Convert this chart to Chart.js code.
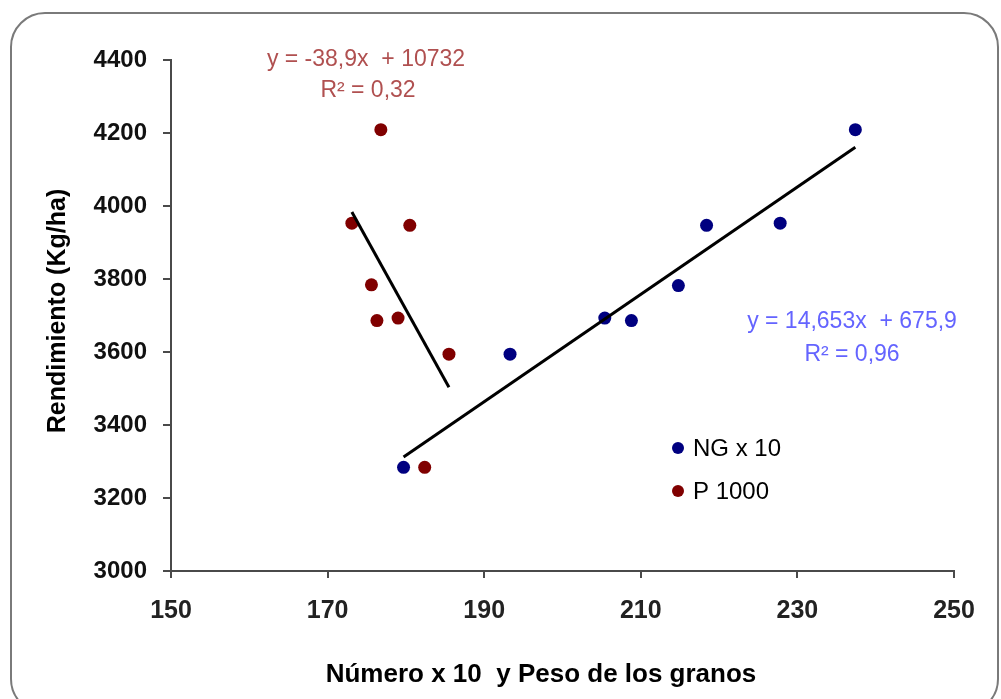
<!DOCTYPE html>
<html><head><meta charset="utf-8">
<script src="https://cdn.jsdelivr.net/npm/chart.js@4.4.0/dist/chart.umd.min.js"></script>
<style>html,body{margin:0;padding:0;background:#fff;} #wrap{width:1001px;height:699px;position:relative;}</style>
</head><body><div id="wrap"><canvas id="c"></canvas></div>
<script>
// ---- data ----
const seriesNames = ['NG x 10', 'P 1000'];
const ngX = [179.7, 193.3, 205.4, 208.8, 214.8, 218.4, 227.8, 237.4];
const ngY = [3284, 3594, 3693, 3686, 3782, 3947, 3953, 4209];
const pX  = [176.8, 173.1, 180.5, 175.6, 176.3, 179.0, 185.5, 182.4];
const pY  = [4209, 3953, 3947, 3784, 3686, 3693, 3594, 3284];
const xTicks = [150, 170, 190, 210, 230, 250];
const yTicks = [3000, 3200, 3400, 3600, 3800, 4000, 4200, 4400];
const eqNG = ['y = 14,653x  + 675,9', 'R\u00B2 = 0,96'];
const eqP  = ['y = -38,9x  + 10732', 'R\u00B2 = 0,32'];
const xTitle = 'N\u00FAmero x 10  y Peso de los granos';
const yTitle = 'Rendimiento (Kg/ha)';

const NAVY = '#000080', MAROON = '#800000';
const AXIS = '#4a4a4a';

function zip(xs, ys){ return xs.map((x,i)=>({x:x, y:ys[i]})); }
function trend(xs, ys){
  const n = xs.length;
  const mx = xs.reduce((a,b)=>a+b,0)/n, my = ys.reduce((a,b)=>a+b,0)/n;
  let sxy=0, sxx=0;
  for(let i=0;i<n;i++){ sxy += (xs[i]-mx)*(ys[i]-my); sxx += (xs[i]-mx)*(xs[i]-mx); }
  const b = sxy/sxx, a = my - b*mx;
  const x0 = Math.min(...xs), x1 = Math.max(...xs);
  return [{x:x0, y:a+b*x0}, {x:x1, y:a+b*x1}];
}

const decor = {
  id: 'decor',
  beforeDraw(chart){
    const ctx = chart.ctx;
    ctx.save();
    ctx.fillStyle = '#fff';
    ctx.fillRect(0,0,chart.width,chart.height);
    ctx.strokeStyle = '#7a7a7a';
    ctx.lineWidth = 2;
    ctx.beginPath();
    ctx.roundRect(11, 13, 987, 700, 34);
    ctx.stroke();
    ctx.restore();
  },
  afterDraw(chart){
    const ctx = chart.ctx;
    ctx.save();
    ctx.textAlign = 'center';
    ctx.textBaseline = 'middle';
    ctx.font = '23px "Liberation Sans", Arial, sans-serif';
    ctx.fillStyle = '#b05050';
    ctx.fillText(eqP[0], 366, 60);
    ctx.fillText(eqP[1], 368, 91);
    ctx.fillStyle = '#6464ff';
    ctx.fillText(eqNG[0], 852, 322);
    ctx.fillText(eqNG[1], 852, 355);

    // legend
    const leg = [[seriesNames[0], NAVY, 448], [seriesNames[1], MAROON, 491]];
    ctx.font = '24px "Liberation Sans", Arial, sans-serif';
    ctx.textAlign = 'left';
    leg.forEach(([t,c,y])=>{
      ctx.fillStyle = c;
      ctx.beginPath(); ctx.arc(678, y, 6, 0, Math.PI*2); ctx.fill();
      ctx.fillStyle = '#000';
      ctx.fillText(t, 693, y+1);
    });

    // axis titles
    ctx.fillStyle = '#000';
    ctx.font = 'bold 26px "Liberation Sans", Arial, sans-serif';
    ctx.textAlign = 'center';
    ctx.fillText(xTitle, 541, 675);
    ctx.save();
    ctx.translate(58, 311);
    ctx.rotate(-Math.PI/2);
    ctx.font = 'bold 25px "Liberation Sans", Arial, sans-serif';
    ctx.fillText(yTitle, 0, 0);
    ctx.restore();
    ctx.restore();
  }
};

new Chart(document.getElementById('c'), {
  type: 'scatter',
  data: {
    datasets: [
      { label: 'trendNG', type: 'line', data: trend(ngX, ngY), borderColor: '#000', borderWidth: 3,
        pointRadius: 0, fill: false, order: 0 },
      { label: 'trendP', type: 'line', data: trend(pX, pY), borderColor: '#000', borderWidth: 3,
        pointRadius: 0, fill: false, order: 0 },
      { label: seriesNames[0], data: zip(ngX, ngY), backgroundColor: NAVY, borderWidth: 0,
        pointRadius: 6.5, order: 1 },
      { label: seriesNames[1], data: zip(pX, pY), backgroundColor: MAROON, borderWidth: 0,
        pointRadius: 6.5, order: 1 }
    ]
  },
  options: {
    responsive: true, maintainAspectRatio: false, animation: false,
    layout: { padding: { top: 60, right: 47, left: 0, bottom: 0 } },
    plugins: { legend: { display: false }, tooltip: { enabled: false } },
    scales: {
      x: {
        type: 'linear', min: 150, max: 250,
        afterBuildTicks: s => { s.ticks = xTicks.map(v => ({value: v})); },
        afterFit: s => { s.height = 128; },
        border: { color: AXIS, width: 2 },
        grid: { display: true, drawOnChartArea: false, drawTicks: true, tickLength: 7, color: AXIS, lineWidth: 2 },
        ticks: { padding: 18, color: '#222', callback: v => String(v),
          font: { family: '"Liberation Sans", Arial, sans-serif', size: 25, weight: 'bold' } }
      },
      y: {
        type: 'linear', min: 3000, max: 4400,
        afterBuildTicks: s => { s.ticks = yTicks.map(v => ({value: v})); },
        afterFit: s => { s.width = 171; },
        border: { color: AXIS, width: 2 },
        grid: { display: true, drawOnChartArea: false, drawTicks: true, tickLength: 8, color: AXIS, lineWidth: 2 },
        ticks: { padding: 16, color: '#111', callback: v => String(v),
          font: { family: '"Liberation Sans", Arial, sans-serif', size: 24, weight: 'bold' } }
      }
    }
  },
  plugins: [decor]
});
</script>
</body></html>
